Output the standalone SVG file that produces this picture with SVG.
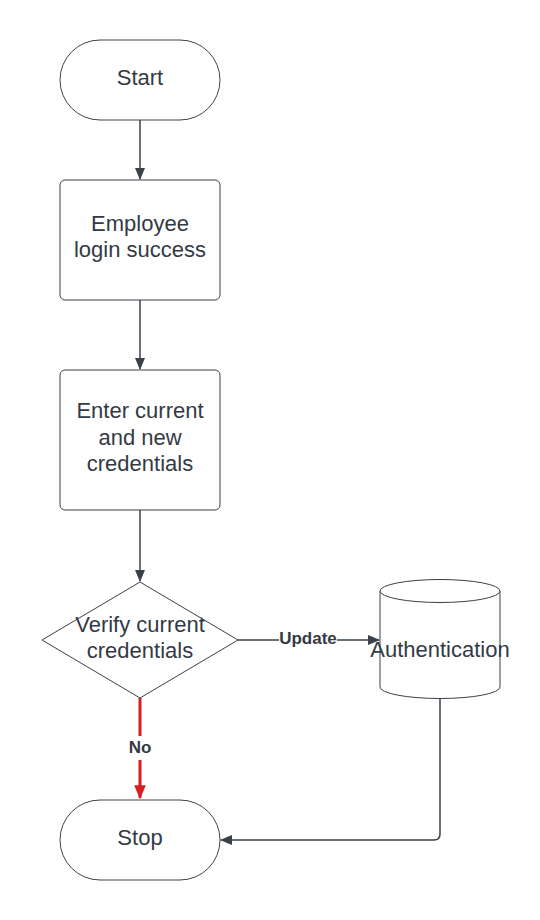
<svg xmlns="http://www.w3.org/2000/svg" width="540" height="920" viewBox="0 0 540 920">
<defs>
<style>
.shape{fill:#ffffff;stroke:#3a414a;stroke-width:1}
.lbl{font-family:"Liberation Sans",Arial,sans-serif;font-size:22px;fill:#333a45;text-anchor:middle}
.elbl{font-family:"Liberation Sans",Arial,sans-serif;font-size:17px;font-weight:bold;fill:#333a45;text-anchor:middle}
.conn{fill:none;stroke:#3a414a;stroke-width:1.5}
.red{fill:none;stroke:#d42020;stroke-width:3}
</style>
<marker id="ah" viewBox="0 0 12 12" refX="11" refY="6" markerWidth="12" markerHeight="12" markerUnits="userSpaceOnUse" orient="auto">
<path d="M0,1 L12,6 L0,11 Z" fill="#3a414a"/>
</marker>
<marker id="ahr" viewBox="0 0 12 12" refX="11" refY="6" markerWidth="14" markerHeight="14" markerUnits="userSpaceOnUse" orient="auto">
<path d="M0,1 L12,6 L0,11 Z" fill="#d42020"/>
</marker>
</defs>
<rect width="540" height="920" fill="#ffffff"/>
<g id="connectors">
<line class="conn" x1="140" y1="120" x2="140" y2="179" marker-end="url(#ah)"/>
<line class="conn" x1="140" y1="300" x2="140" y2="369" marker-end="url(#ah)"/>
<line class="conn" x1="140" y1="510" x2="140" y2="581" marker-end="url(#ah)"/>
<path class="conn" d="M238,640 H279 M337,640 H379" marker-end="url(#ah)"/>
<text class="elbl" x="308" y="644">Update</text>
<path class="red" d="M140,698 V736 M140,760 V798" marker-end="url(#ahr)"/>
<text class="elbl" x="140" y="753">No</text>
<path class="conn" d="M440,698 V834 Q440,840 434,840 H221" marker-end="url(#ah)"/>
</g>
<g id="start">
<rect class="shape" x="60" y="40" width="160" height="80" rx="40" ry="40"/>
<text class="lbl" x="140" y="85">Start</text>
</g>
<g id="employee">
<rect class="shape" x="60" y="180" width="160" height="120" rx="5" ry="5"/>
<text class="lbl" x="140" y="231">Employee</text>
<text class="lbl" x="140" y="257">login success</text>
</g>
<g id="enter">
<rect class="shape" x="60" y="370" width="160" height="140" rx="5" ry="5"/>
<text class="lbl" x="140" y="418">Enter current</text>
<text class="lbl" x="140" y="445">and new</text>
<text class="lbl" x="140" y="471">credentials</text>
</g>
<g id="verify">
<path class="shape" d="M140,582 L238,640 L140,698 L42,640 Z"/>
<text class="lbl" x="140" y="632">Verify current</text>
<text class="lbl" x="140" y="658">credentials</text>
</g>
<g id="authentication">
<path class="shape" d="M380,591 A60,11.5 0 0 1 500,591 V687 A60,11.5 0 0 1 380,687 Z"/>
<path class="shape" fill="none" d="M380,591 A60,11.5 0 0 0 500,591"/>
<text class="lbl" x="440" y="657">Authentication</text>
</g>
<g id="stop">
<rect class="shape" x="60" y="800" width="160" height="80" rx="40" ry="40"/>
<text class="lbl" x="140" y="845">Stop</text>
</g>
</svg>
